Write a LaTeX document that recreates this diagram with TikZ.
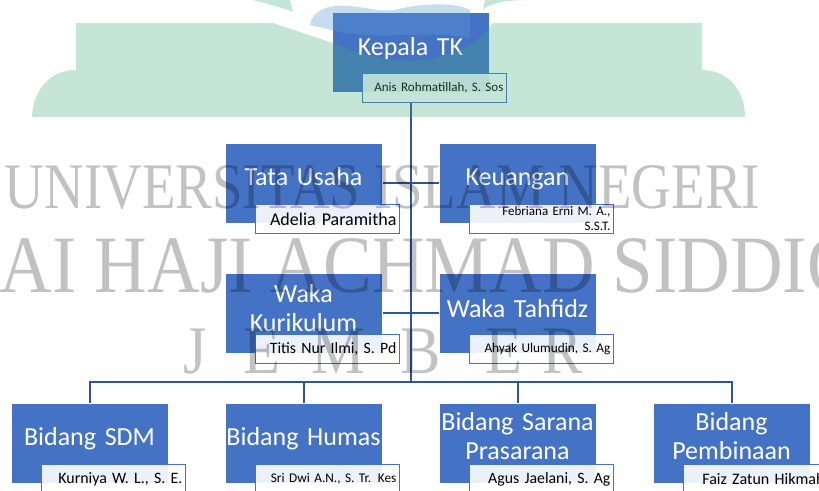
\documentclass[tikz,border=0pt]{standalone}
\usepackage{fontspec}
\setmainfont{Carlito}
\newfontfamily\wmfont{Liberation Serif}
\usepackage{graphicx}
\usepackage{xcolor}
\usepackage{tikz}
\usetikzlibrary{backgrounds}
\usetikzlibrary{calc}

\definecolor{boxblue}{RGB}{68,114,196}
\definecolor{linkblue}{RGB}{47,85,151}
\definecolor{logogreen}{RGB}{63,168,120}
\definecolor{logoblue}{RGB}{91,155,213}

\begin{document}
\begin{tikzpicture}[x=1pt,y=-1pt,
    mainbox/.style={rectangle, fill=boxblue, draw=white, thin, minimum width=157pt, minimum height=80pt, inner sep=0pt},
    title/.style={text=white, font=\fontsize{26}{29}\selectfont, align=center, text width=156pt, inner sep=0pt, anchor=base},
    namebox/.style={rectangle, draw=boxblue, line width=1.5pt, fill=white, fill opacity=0.9, text opacity=1, text=black,
        minimum width=144pt, minimum height=29pt, text width=138pt, inner xsep=3pt, inner ysep=0pt, align=right, anchor=south east},
    link/.style={draw=linkblue, line width=2pt},
    wmark/.style={text=black, text opacity=0.24, inner sep=0pt, anchor=base}]

        \useasboundingbox (0,0) rectangle (819,490);
        \clip (0,0) rectangle (819,490);

        %% boxes
        \node[mainbox] (kepala) at (410.5,52) {};
        \node[mainbox] (tata) at (303.5,183) {};
        \node[mainbox] (keu) at (517.5,183) {};
        \node[mainbox] (kur) at (303.5,313) {};
        \node[mainbox] (tah) at (517.5,313) {};
        \foreach \n/\x in {sdm/89.5, hum/303.5, sar/517.5, pem/731.5}
                \node[mainbox] (\n) at (\x,443) {};

        \node[title] (kepalat) at ($(kepala)+(0,3)$) {Kepala TK};
        \node[title] (tatat) at ($(tata)+(0,2)$) {Tata Usaha};
        \node[title] (keut) at ($(keu)+(0,2)$) {Keuangan};
        \node[title] (kurt) at ($(kur)+(0,-11)$) {Waka\\Kurikulum};
        \node[title] (taht) at ($(tah)+(0,4)$) {Waka Tahfidz};
        \node[title] (sdmt) at ($(sdm)+(0,2)$) {Bidang SDM};
        \node[title] (humt) at ($(hum)+(0,2)$) {Bidang Humas};
        \node[title] (sart) at ($(sar)+(0,-13)$) {Bidang Sarana\\Prasarana};
        \node[title] (pemt) at ($(pem)+(0,-13)$) {Bidang\\Pembinaan};

        %% names
        \node[namebox, font=\fontsize{13}{15}\selectfont] (anis) at ($(kepala.south east)+(18,11)$) {Anis Rohmatillah, S. Sos};
        \node[namebox, font=\fontsize{18}{20}\selectfont] (adelia) at ($(tata.south east)+(18,11)$) {Adelia Paramitha};
        \node[namebox, font=\fontsize{13}{15}\selectfont] (febriana) at ($(keu.south east)+(18,11)$) {Febriana Erni M. A.,\\S.S.T.};
        \node[namebox, font=\fontsize{15.8}{18}\selectfont] (titis) at ($(kur.south east)+(18,11)$) {Titis Nur Ilmi, S. Pd};
        \node[namebox, font=\fontsize{13.3}{15}\selectfont] (ahyak) at ($(tah.south east)+(18,11)$) {Ahyak Ulumudin, S. Ag};
        \node[namebox, font=\fontsize{15.9}{18}\selectfont] (kurniya) at ($(sdm.south east)+(18,11)$) {Kurniya W. L., S. E.};
        \node[namebox, font=\fontsize{13.3}{15}\selectfont] (sri) at ($(hum.south east)+(18,11)$) {Sri Dwi A.N., S. Tr. Kes};
        \node[namebox, font=\fontsize{15.8}{18}\selectfont] (agus) at ($(sar.south east)+(18,11)$) {Agus Jaelani, S. Ag};
        \node[namebox, font=\fontsize{16}{18}\selectfont] (faiz) at ($(pem.south east)+(18,11)$) {Faiz Zatun Hikmah};

        \begin{scope}[on background layer]
                \coordinate (bus) at (410.5,382);
                \draw[link] (anis.south -| kepala.south) -- (bus);
                \draw[link] (tata.east) -- (keu.west);
                \draw[link] (kur.east) -- (tah.west);
                \foreach \n in {sdm,hum,sar,pem}
                        \draw[link] (bus) -| (\n.north);
        \end{scope}

        %% watermark logo
        \fill[logogreen, opacity=0.3] (76,23) -- (273,23) -- (333,43)
                .. controls (360,55) and (390,62) .. (420,60)
                .. controls (460,56) and (480,40) .. (493,23) -- (702,23) -- (702,70)
                .. controls (728,70) and (745,90) .. (745,117) -- (32,117)
                .. controls (33,90) and (50,70) .. (76,70) -- cycle;
        \fill[logogreen, opacity=0.3] (253,0) .. controls (270,5) and (285,8) .. (293,12) -- (290,0) -- cycle;
        \fill[logogreen, opacity=0.3] (483,10) .. controls (490,3) and (505,0) .. (530,0) -- (485,0) -- cycle;
        \fill[logoblue, opacity=0.35] (310,25) .. controls (312,10) and (330,4) .. (350,6)
                .. controls (370,8) and (380,12) .. (395,10)
                .. controls (420,3) and (455,2) .. (470,10) -- (470,38)
                .. controls (430,30) and (380,40) .. (340,32) -- cycle;

        %% watermark text
        \node[wmark, font=\wmfont\fontsize{65}{65}\selectfont] (wmuniv) at (382.5,208) {\scalebox{0.845}[1]{UNIVERSITAS ISLAM NEGERI}};
        \node[wmark, font=\wmfont\fontsize{81.5}{82}\selectfont] (wmkiai) at (391.5,292) {\scalebox{0.894}[1]{KIAI HAJI ACHMAD SIDDIQ}};
        \foreach \ch/\x [count=\i] in {J/195,E/262,M/338,B/421,E/504,R/563}
                \node[wmark, font=\wmfont\fontsize{68}{68}\selectfont] (wmjember\i) at (\x,373) {\scalebox{0.89}[1]{\ch}};

\end{tikzpicture}
\end{document}
